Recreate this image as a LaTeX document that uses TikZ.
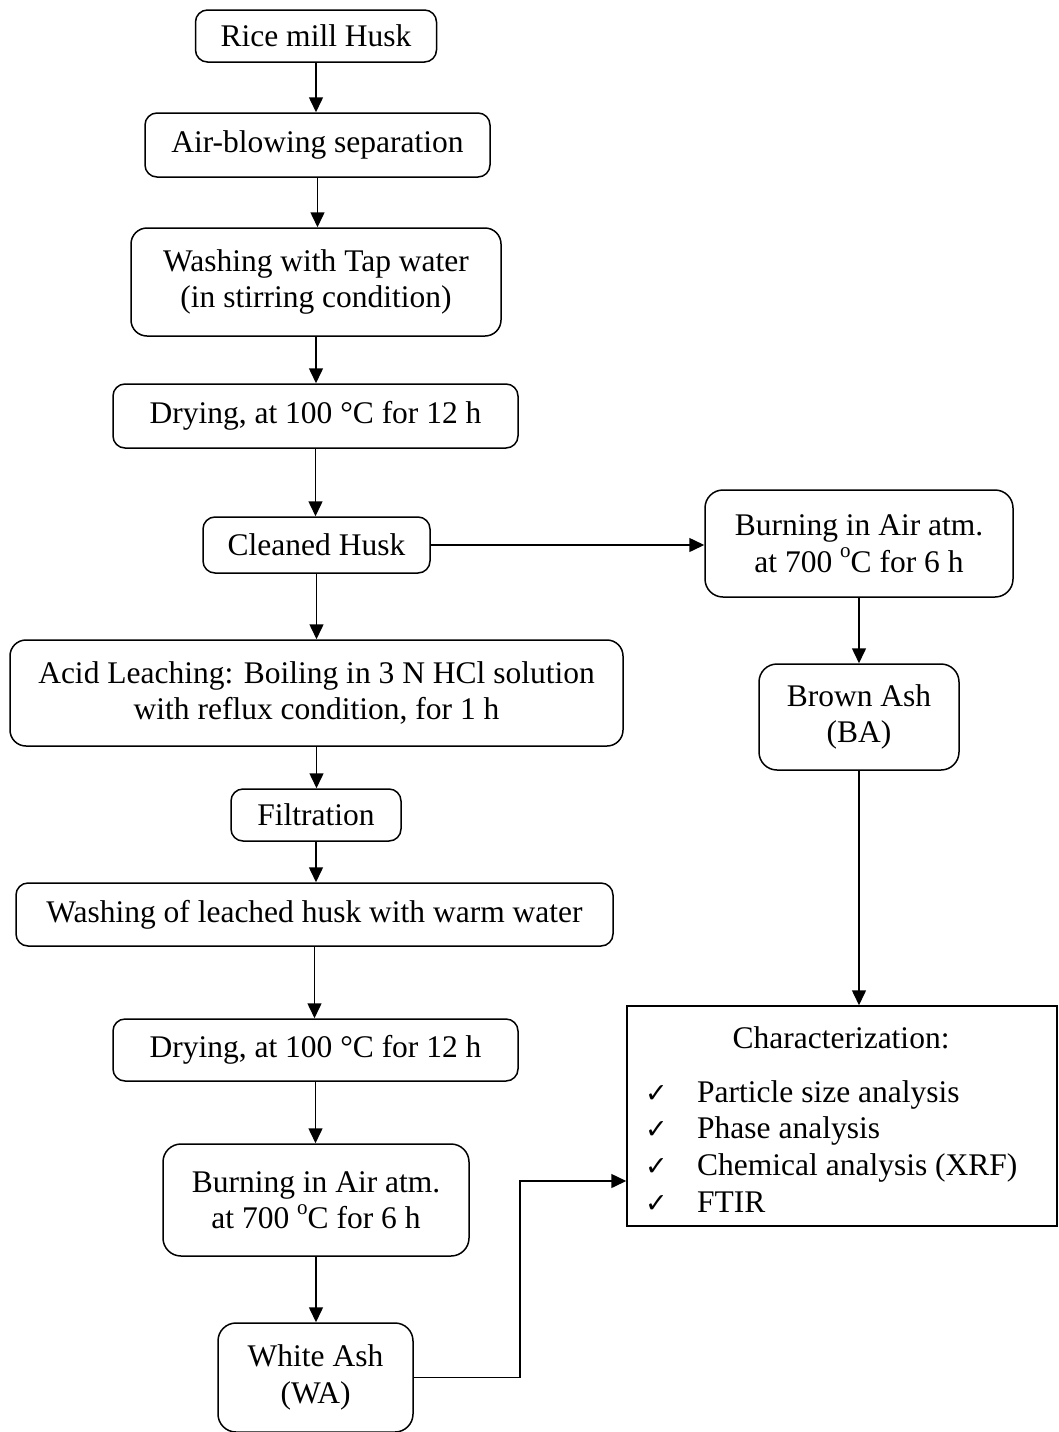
\documentclass[tikz,border=0pt]{standalone}
\usepackage{fontspec}
\setmainfont{Liberation Serif}
\newfontfamily\symfont{DejaVu Sans}
\usetikzlibrary{arrows.meta,calc}
\newcommand{\degsup}{\raisebox{0.45em}{\fontsize{21}{21}\selectfont o}}
\begin{document}
\begin{tikzpicture}[x=1pt,y=-1pt,
  every node/.style={font=\fontsize{31.5}{36.5}\selectfont, inner sep=0pt},
  proc/.style={draw, line width=1.5pt, rounded corners=12pt, align=center},
  plainbox/.style={draw, line width=1.5pt},
  arr/.style={line width=1.5pt, -{Triangle[length=15pt,width=14pt]}},
  item/.style={anchor=base west}]
\useasboundingbox (0,0) rectangle (1058,1432);

% main column of process steps
\node[proc, minimum width=241pt, minimum height=52pt]  (rice)  at (316,36)    {Rice mill Husk};
\node[proc, minimum width=345pt, minimum height=64pt]  (air)   at (317.5,145) {Air-blowing separation};
\node[proc, minimum width=370pt, minimum height=108pt, rounded corners=16pt] (wash1) at (316,282) {Washing with Tap water\\(in stirring condition)};
\node[proc, minimum width=405pt, minimum height=64pt]  (dry1)  at (315.5,416) {Drying, at 100 °C for 12 h};
\node[proc, minimum width=227pt, minimum height=56pt]  (clean) at (316.5,545) {Cleaned Husk};
\node[proc, minimum width=613pt, minimum height=106pt, rounded corners=16pt] (acid)  at (316.5,693) {Acid Leaching: Boiling in 3 N HCl solution\\with reflux condition, for 1 h};
\node[proc, minimum width=170pt, minimum height=52pt]  (filt)  at (316,815)   {Filtration};
\node[proc, minimum width=597pt, minimum height=63pt]  (wash2) at (314.5,914.5) {Washing of leached husk with warm water};
\node[proc, minimum width=405pt, minimum height=62pt]  (dry2)  at (315.5,1050) {Drying, at 100 °C for 12 h};
\node[proc, minimum width=306pt, minimum height=112pt, rounded corners=18pt] (burnL) at (316,1200) {Burning in Air atm.\\at 700 \degsup C for 6 h};
\node[proc, minimum width=195pt, minimum height=109pt, rounded corners=18pt] (wa)    at (315.5,1377.5) {White Ash\\(WA)};

% side branch
\node[proc, minimum width=308pt, minimum height=107pt, rounded corners=18pt] (burnR) at (859,543.5) {Burning in Air atm.\\at 700 \degsup C for 6 h};
\node[proc, minimum width=200pt, minimum height=106pt, rounded corners=18pt] (ba)    at (859,717) {Brown Ash\\(BA)};

% characterization box with its list
\node[plainbox, minimum width=430pt, minimum height=220pt] (char) at (842,1116) {};
\node[anchor=base] (ctitle) at (841,1048) {Characterization:};
\node[item] (c1) at (697,1102) {Particle size analysis};
\node[item] (c2) at (697,1138) {Phase analysis};
\node[item] (c3) at (697,1175) {Chemical analysis (XRF)};
\node[item] (c4) at (697,1212) {FTIR};
\foreach \n in {c1,c2,c3,c4}
  \node[anchor=base east, font=\symfont\fontsize{27}{30}\selectfont] at ($(\n.base west)+(-29,0)$) {✓};

% connectors
\draw[arr] (rice)  -- (rice  |- air.north);
\draw[arr] (air)   -- (air   |- wash1.north);
\draw[arr] (wash1) -- (wash1 |- dry1.north);
\draw[arr] (dry1)  -- (dry1  |- clean.north);
\draw[arr] (clean) -- (clean |- acid.north);
\draw[arr] (acid)  -- (acid  |- filt.north);
\draw[arr] (filt)  -- (filt  |- wash2.north);
\draw[arr] (wash2) -- (wash2 |- dry2.north);
\draw[arr] (dry2)  -- (dry2  |- burnL.north);
\draw[arr] (burnL) -- (burnL |- wa.north);
\draw[arr] (clean) -- (clean -| burnR.west);
\draw[arr] (burnR) -- (burnR |- ba.north);
\draw[arr] (ba)    -- (ba    |- char.north);
\coordinate (bend) at (520,1181);
\draw[arr] (wa.east) -- (wa.east -| bend) -- (bend) -- (bend -| char.west);
\end{tikzpicture}
\end{document}
